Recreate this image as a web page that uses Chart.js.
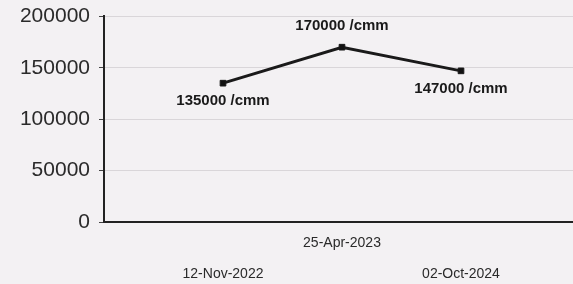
<!DOCTYPE html>
<html>
<head>
<meta charset="utf-8">
<script src="https://cdn.jsdelivr.net/npm/chart.js@4.4.1/dist/chart.umd.min.js"></script>
<style>
  html, body { margin: 0; padding: 0; background: #f3f1f3; overflow: hidden; }
  #wrap { width: 590px; height: 284px; }
</style>
</head>
<body>
<div id="wrap"><canvas id="myChart"></canvas></div>
<script>
// values
const dates = ['12-Nov-2022', '25-Apr-2023', '02-Oct-2024'];
const counts = [135000, 170000, 147000];
const unit = ' /cmm';
const yTicks = [0, 50000, 100000, 150000, 200000];

// blank slot on each side so the points sit in from the axis like the original
const labels = [''].concat(dates, ['']);
const values = [null].concat(counts, [null]);

const pointLabels = {
    id: 'pointLabels',
    afterDatasetsDraw(chart) {
        const c = chart.ctx;
        const meta = chart.getDatasetMeta(0);
        c.save();
        c.font = 'bold 15px "Liberation Sans", Arial, sans-serif';
        c.fillStyle = '#1a1a1a';
        c.textAlign = 'center';
        c.textBaseline = 'middle';
        meta.data.forEach((pt, i) => {
            const v = values[i];
            if (v == null) return;
            // middle one goes above, others below
            const dy = (i === 2) ? -21 : 18;
            c.fillText(v + unit, pt.x, pt.y + dy);
        });
        c.restore();
    }
};

const ctx = document.getElementById('myChart').getContext('2d');
const myChart = new Chart(ctx, {
    type: 'line',
    data: {
        labels: labels,
        datasets: [{
            data: values,
            borderColor: '#1a1a1a',
            backgroundColor: '#111',
            borderWidth: 3,
            pointStyle: 'rect',
            pointRadius: 4,
            pointBorderWidth: 1,
            tension: 0
        }]
    },
    options: {
        responsive: true,
        maintainAspectRatio: false,
        animation: false,
        layout: { padding: { top: 0, right: 10, left: 0, bottom: 0 } },
        plugins: {
            legend: { display: false },
            tooltip: { enabled: false }
        },
        scales: {
            x: {
                offset: false,
                grid: { display: false, drawTicks: false },
                border: { color: '#222', width: 2 },
                afterFit: (s) => { s.height = 62; },
                ticks: {
                    autoSkip: false,
                    maxRotation: 0,
                    padding: 6,
                    color: '#2a2a2a',
                    font: { family: '"Liberation Sans", Arial, sans-serif', size: 14, lineHeight: 2.2 },
                    callback: function (val, i) {
                        const l = this.getLabelForValue(val);
                        if (!l) return '';
                        // stagger: middle date on the upper row
                        return (i % 2 === 0) ? [l, ''] : ['', l];
                    }
                }
            },
            y: {
                min: yTicks[0],
                max: yTicks[yTicks.length - 1],
                afterBuildTicks: (s) => { s.ticks = yTicks.map(v => ({ value: v })); },
                afterFit: (s) => { s.width = 104; },
                grid: { color: '#d9d6d9', tickColor: '#444', tickLength: 5 },
                border: { color: '#222', width: 2 },
                ticks: {
                    padding: 9,
                    color: '#2a2a2a',
                    font: { family: '"Liberation Sans", Arial, sans-serif', size: 21, lineHeight: 0.7 },
                    callback: (v) => String(v)
                }
            }
        }
    },
    plugins: [pointLabels]
});
</script>
</body>
</html>
